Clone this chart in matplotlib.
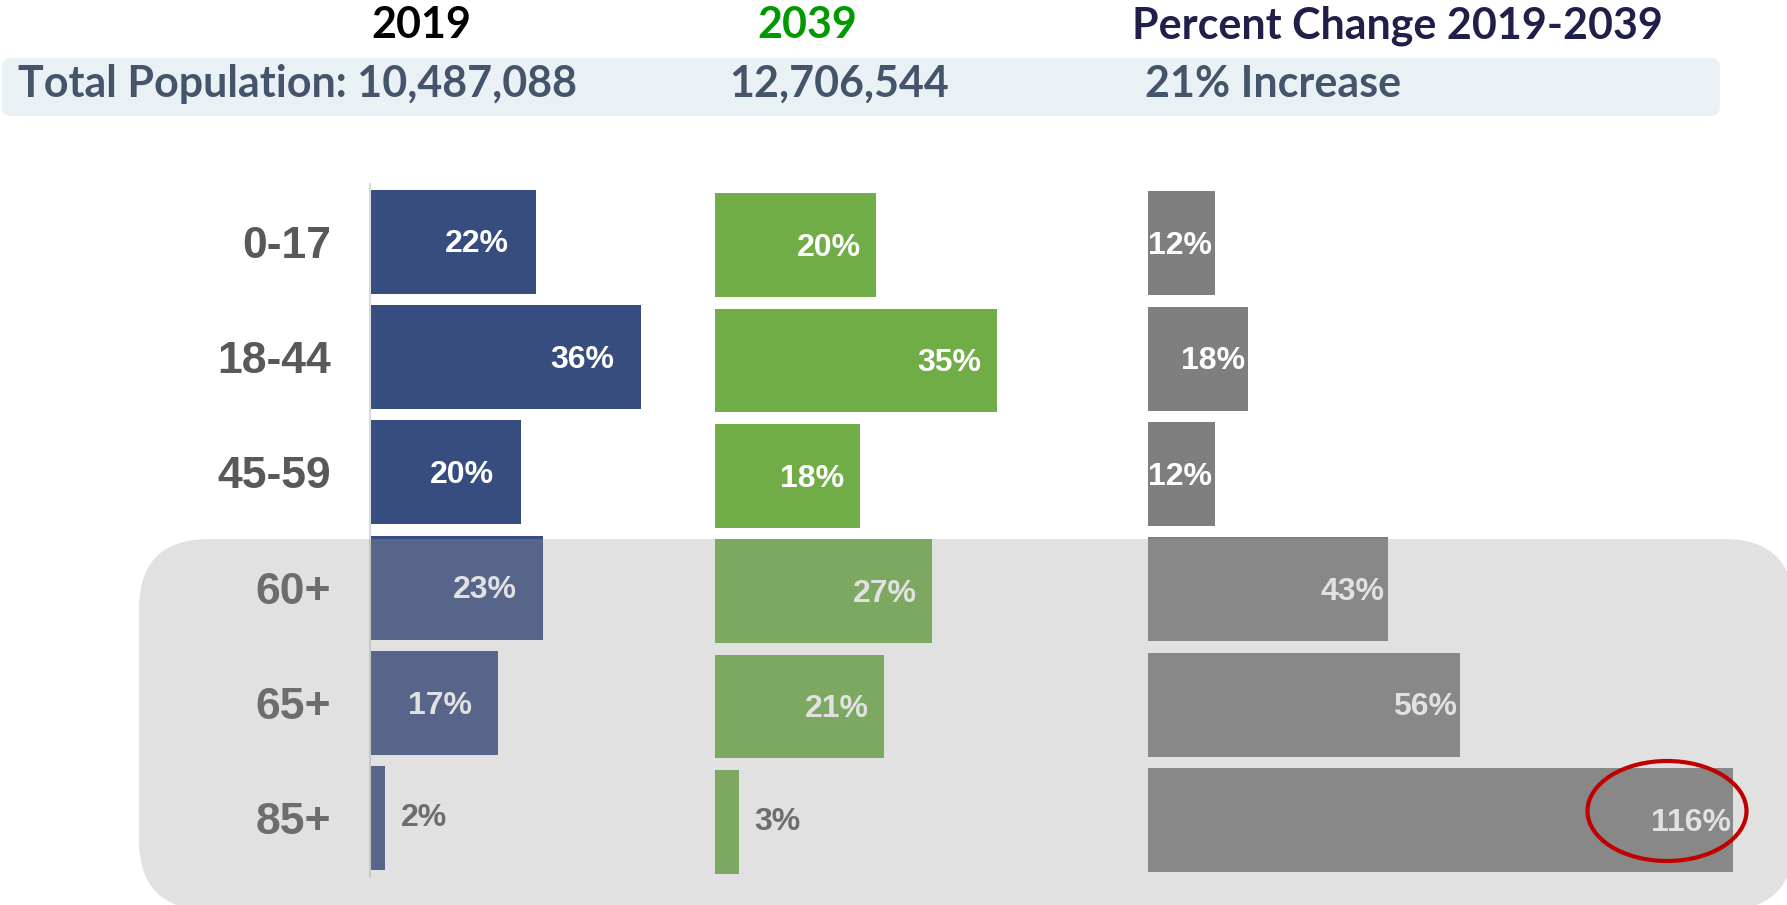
import matplotlib.pyplot as plt
from matplotlib.patches import FancyBboxPatch, Ellipse

# data
groups = ['0-17', '18-44', '45-59', '60+', '65+', '85+']
share_2019 = [22, 36, 20, 23, 17, 2]
share_2039 = [20, 35, 18, 27, 21, 3]
pct_change = [12, 18, 12, 43, 56, 116]

years = ['2019', '2039', 'Percent Change 2019-2039']
totals = ['Total Population: 10,487,088', '12,706,544', '21% Increase']

head_font = ['Lato', 'DejaVu Sans']
bar_font = ['Liberation Sans', 'DejaVu Sans']

fig = plt.figure(figsize=(17.87, 9.05), dpi=100)

# header
fig.add_artist(FancyBboxPatch((0.02, 7.89), 17.18, 0.58,
                              boxstyle='round,pad=0,rounding_size=0.09',
                              transform=fig.dpi_scale_trans,
                              fc='#EAF1F4', ec='none', zorder=1))
fig.text(0.236, 0.972, years[0], ha='center', va='center', fontsize=31,
         fontweight='bold', color='black', family=head_font)
fig.text(0.452, 0.972, years[1], ha='center', va='center', fontsize=31,
         fontweight='bold', color='#009A00', family=head_font)
fig.text(0.782, 0.972, years[2], ha='center', va='center', fontsize=31,
         fontweight='bold', color='#1F1F4A', family=head_font)
for x, s in zip([0.010, 0.408, 0.641], totals):
    fig.text(x, 0.907, s, ha='left', va='center', fontsize=31,
             fontweight='bold', color='#44546A', family=head_font)


def draw(ax, vals, color, xmax, pad_in):
    ax.barh(range(len(vals)), vals, height=0.9, color=color)
    ax.set_ylim(len(vals) - 0.5, -0.5)
    ax.set_xlim(0, xmax)
    ax.set_xticks([])
    ax.set_yticks([])
    for sp in ax.spines.values():
        sp.set_visible(False)
    ax.patch.set_alpha(0)
    for i, v in enumerate(vals):
        if v < 5:
            ax.annotate(f'{v}%', (v, i), xytext=(11, 0), textcoords='offset points',
                        ha='left', va='center', fontsize=23, fontweight='bold',
                        color='#595959', family=bar_font)
        else:
            ax.annotate(f'{v}%', (min(v, xmax), i), xytext=(-pad_in, -2),
                        textcoords='offset points', ha='right', va='center',
                        fontsize=23, fontweight='bold', color='white',
                        family=bar_font)


ax1 = fig.add_axes([0.2071, 0.032, 0.1684, 0.7647])
draw(ax1, share_2019, '#374D80', 40, 19)
ax1.spines['left'].set_visible(True)
ax1.spines['left'].set_color('#D9D9D9')
ax1.spines['left'].set_linewidth(1.5)
ax1.set_yticks(range(len(groups)))
ax1.set_yticklabels(groups, fontsize=32, fontweight='bold', color='#595959',
                    family=bar_font)
ax1.tick_params(axis='y', length=0, pad=28)

ax2 = fig.add_axes([0.3999, 0.0282, 0.1804, 0.7647])
draw(ax2, share_2039, '#70AD47', 40, 11)

ax3 = fig.add_axes([0.6422, 0.0302, 0.3278, 0.7647])
draw(ax3, pct_change, '#7F7F7F', 105, 2)

# grey highlight over the older age groups
fig.add_artist(FancyBboxPatch((1.39, -0.05), 16.55, 3.71,
                              boxstyle='round,pad=0,rounding_size=0.7',
                              transform=fig.dpi_scale_trans,
                              fc='#9E9E9E', ec='none', alpha=0.3, zorder=5))

# red circle around the 85+ change
fig.add_artist(Ellipse((16.67, 0.94), 1.59, 1.0, transform=fig.dpi_scale_trans,
                       fill=False, ec='#C00000', lw=3, zorder=6))

fig.savefig('out.png', dpi=100)
